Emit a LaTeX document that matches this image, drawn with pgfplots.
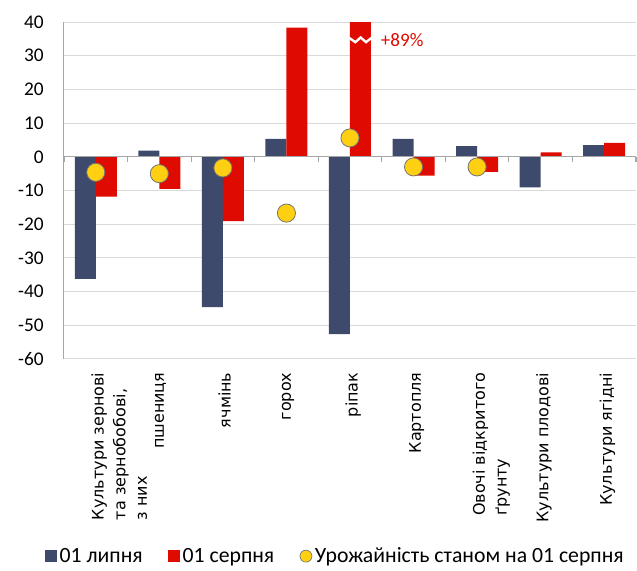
\documentclass[border=0pt]{standalone}
\usepackage{pgfplots}
\pgfplotsset{compat=1.18}
\usepackage{fontspec}
\setmainfont{Carlito}
\newfontfamily\labfont{DejaVu Sans}
\definecolor{cblue}{HTML}{3D4A6B}
\definecolor{cred}{HTML}{DF0A00}
\definecolor{cyel}{HTML}{FFD012}
\definecolor{gridc}{HTML}{D9D9D9}
\definecolor{axc}{HTML}{A6A6A6}
\begin{document}
\begin{tikzpicture}[x=1pt,y=1pt]
\begin{axis}[
  scale only axis,
  width=429pt, height=252.75pt,
  xmin=-0.5, xmax=8.5,
  ymin=-60, ymax=40,
  ytick={-60,-50,...,40},
  ymajorgrids, grid style={gridc, line width=0.75pt},
  major tick length=0pt,
  axis line style={draw=none},
  xtick={0,...,8},
  xticklabels={{Культури зернові\\та зернобобові,\\з них},пшениця,ячмінь,горох,ріпак,Картопля,{Овочі відкритого\\ґрунту},Культури плодові,Культури ягідні},
  xticklabel style={rotate=90, anchor=north east, align=left, inner sep=0pt, xshift=-10pt, yshift=3.5pt, font=\labfont\fontsize{12}{16.3}\selectfont},
  yticklabel style={font=\fontsize{14.5}{16}\selectfont, inner sep=0pt, xshift=-15pt},
  /pgf/number format/assume math mode=true,
  clip=false,
  legend style={at={(axis description cs:0.475,-0.585)}, anchor=center, draw=none, legend columns=3, font=\fontsize{16.3}{18}\selectfont, /tikz/every even column/.append style={column sep=17pt}, inner sep=0pt},
  legend cell align=left,
  legend image code/.code={\fill[#1] (0pt,-4.5pt) rectangle (9pt,4.5pt);},
]
\draw[axc, line width=0.75pt] (rel axis cs:0,0) -- (rel axis cs:0,1);
\addplot[ybar, bar width=15.75pt, bar shift=-7.875pt, fill=cblue, draw=none] coordinates {
(0,-36.2) (1,1.8) (2,-44.6) (3,5.3) (4,-52.6) (5,5.3) (6,3.2) (7,-9.1) (8,3.5)};
\addlegendentry{01 липня}
\addplot[ybar, bar width=15.75pt, bar shift=7.875pt, fill=cred, draw=none] coordinates {
(0,-11.8) (1,-9.5) (2,-19.1) (3,38.3) (4,40) (5,-5.6) (6,-4.5) (7,1.3) (8,4.1)};
\addlegendentry{01 серпня}
\draw[axc, line width=0.9pt] (axis cs:-0.5,0) -- (axis cs:8.5,0);
\pgfplotsinvokeforeach{-0.5,0.5,1.5,2.5,3.5,4.5,5.5,6.5,7.5,8.5}{\draw[axc, line width=0.9pt] (axis cs:#1,0) -- ([yshift=-4pt]axis cs:#1,0);}
\draw[white, line width=1.8pt] ([xshift=-1pt]axis cs:4,35.4) -- ([xshift=4pt,yshift=-3.5pt]axis cs:4,35.4) -- ([xshift=8pt]axis cs:4,35.4) -- ([xshift=12pt,yshift=-3.5pt]axis cs:4,35.4) -- ([xshift=16.5pt]axis cs:4,35.4);
\node[anchor=west, text=cred, font=\fontsize{14.3}{16}\selectfont, inner sep=0pt] at ([xshift=23pt]axis cs:4,34.6) {+89\%};
\addplot[only marks, mark=*, mark size=6.8pt, mark options={fill=cyel, draw=gray!90!black, line width=0.6pt}, legend image code/.code={\draw[fill=cyel, draw=gray!90!black, line width=0.5pt] (4.5pt,0pt) circle (4.5pt);}] coordinates {
(0,-4.6) (1,-5.0) (2,-3.3) (3,-16.7) (4,5.6) (5,-3.0) (6,-3.0)};
\addlegendentry{Урожайність станом на 01 серпня}
\end{axis}
\pgfresetboundingbox
\path[use as bounding box] (-48pt,-159pt) rectangle (429.75pt,269.25pt);
\end{tikzpicture}
\end{document}
